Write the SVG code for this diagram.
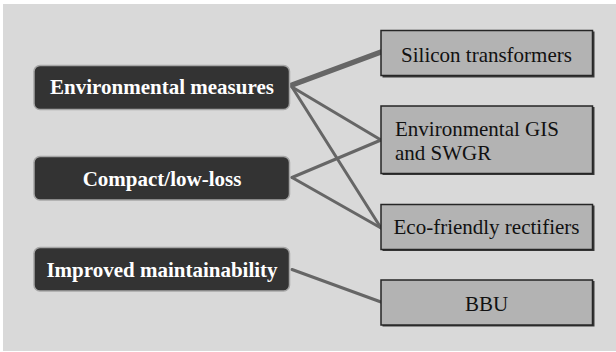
<svg xmlns="http://www.w3.org/2000/svg" width="616" height="352" viewBox="0 0 616 352">
  <style>
    .bg { fill: #d9d9d9; }
    .cat rect { fill: #333333; stroke: #a6a6a6; stroke-width: 1.5; }
    .cat text { fill: #ffffff; font-family: "Liberation Serif", "Times New Roman", serif; font-weight: bold; font-size: 21px; text-anchor: middle; }
    .item .shadow { fill: #3a3a3a; }
    .item .box { fill: #b3b3b3; stroke: #262626; stroke-width: 1.5; }
    .item text { fill: #111111; font-family: "Liberation Serif", "Times New Roman", serif; font-size: 21px; }
    .conn line { stroke: #666666; stroke-width: 3; stroke-linecap: round; }
    .conn line.thick { stroke-width: 5.5; }
  </style>
  <rect class="bg" x="3" y="4" width="613" height="347"/>

  <g id="connectors" class="conn">
    <line class="thick" x1="292" y1="85" x2="381" y2="52"/>
    <line x1="292" y1="87" x2="381" y2="140"/>
    <line x1="292" y1="87" x2="381" y2="228"/>
    <line x1="292" y1="177.5" x2="381" y2="140"/>
    <line x1="292" y1="177.5" x2="381" y2="228"/>
    <line x1="292" y1="269.5" x2="381" y2="302"/>
  </g>

  <g id="env-measures" class="cat">
    <rect x="34" y="65.5" width="255.5" height="44" rx="6"/>
    <text x="162" y="94">Environmental measures</text>
  </g>
  <g id="compact" class="cat">
    <rect x="34" y="156.5" width="255.5" height="43.5" rx="6"/>
    <text x="162" y="185.5">Compact/low-loss</text>
  </g>
  <g id="maintainability" class="cat">
    <rect x="34" y="247.5" width="255.5" height="43.5" rx="6"/>
    <text x="162" y="276.5">Improved maintainability</text>
  </g>

  <g id="silicon" class="item">
    <rect class="shadow" x="382.5" y="31.5" width="212" height="46"/>
    <rect class="box" x="381" y="30.5" width="211.5" height="45"/>
    <text x="486.5" y="61.5" text-anchor="middle">Silicon transformers</text>
  </g>
  <g id="gis" class="item">
    <rect class="shadow" x="382.5" y="107" width="212" height="68"/>
    <rect class="box" x="381" y="106" width="211.5" height="67.5"/>
    <text x="395" y="136">Environmental GIS</text>
    <text x="395" y="159.5">and SWGR</text>
  </g>
  <g id="rectifiers" class="item">
    <rect class="shadow" x="382.5" y="205.5" width="212" height="45.5"/>
    <rect class="box" x="381" y="204.5" width="211.5" height="45"/>
    <text x="486.5" y="233.5" text-anchor="middle">Eco-friendly rectifiers</text>
  </g>
  <g id="bbu" class="item">
    <rect class="shadow" x="382.5" y="281" width="212" height="45.5"/>
    <rect class="box" x="381" y="280" width="211.5" height="45"/>
    <text x="486.5" y="310.5" text-anchor="middle">BBU</text>
  </g>
</svg>
